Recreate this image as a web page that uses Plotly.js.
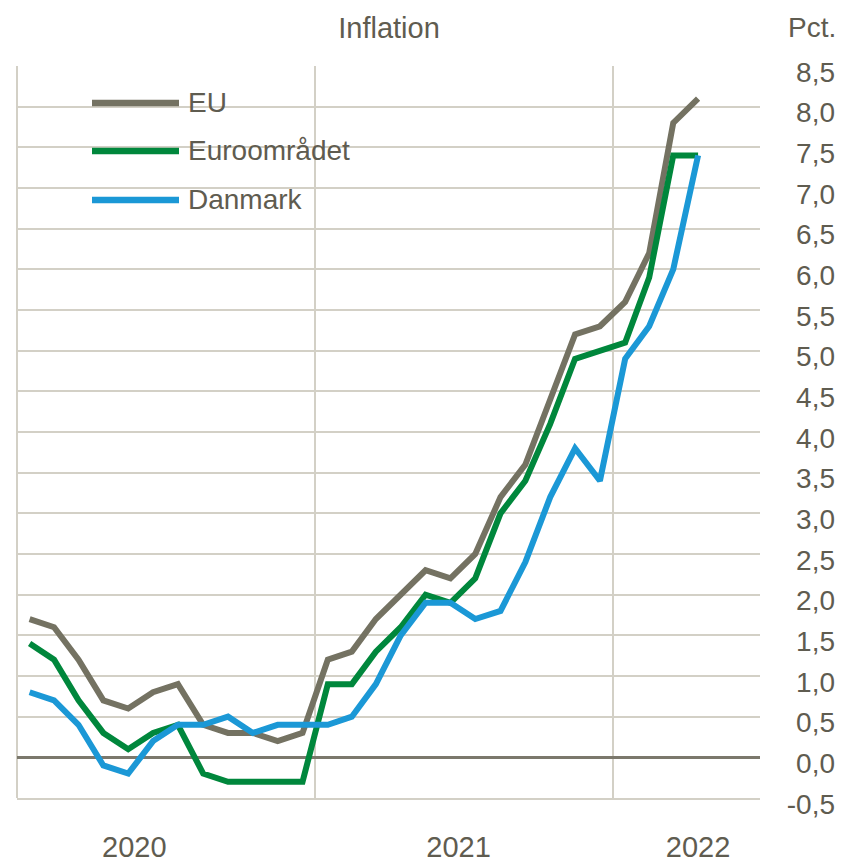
<!DOCTYPE html>
<html>
<head>
<meta charset="utf-8">
<script src="https://cdn.plot.ly/plotly-3.0.1.min.js"></script>
<style>html,body{margin:0;padding:0;background:#fff;}#chart{width:843px;height:862px;}</style>
</head>
<body>
<div id="chart"></div>
<script>
// ---- data ----
const months = [
  "2020-01","2020-02","2020-03","2020-04","2020-05","2020-06","2020-07","2020-08","2020-09","2020-10","2020-11","2020-12",
  "2021-01","2021-02","2021-03","2021-04","2021-05","2021-06","2021-07","2021-08","2021-09","2021-10","2021-11","2021-12",
  "2022-01","2022-02","2022-03","2022-04"
];
const eu = [1.7,1.6,1.2,0.7,0.6,0.8,0.9,0.4,0.3,0.3,0.2,0.3, 1.2,1.3,1.7,2.0,2.3,2.2,2.5,3.2,3.6,4.4,5.2,5.3, 5.6,6.2,7.8,8.1];
const euroarea = [1.4,1.2,0.7,0.3,0.1,0.3,0.4,-0.2,-0.3,-0.3,-0.3,-0.3, 0.9,0.9,1.3,1.6,2.0,1.9,2.2,3.0,3.4,4.1,4.9,5.0, 5.1,5.9,7.4,7.4];
const denmark = [0.8,0.7,0.4,-0.1,-0.2,0.2,0.4,0.4,0.5,0.3,0.4,0.4, 0.4,0.5,0.9,1.5,1.9,1.9,1.7,1.8,2.4,3.2,3.8,3.4, 4.9,5.3,6.0,7.4];
const seriesNames = ["EU","Euroområdet","Danmark"];
const yTickVals = [-0.5,0,0.5,1,1.5,2,2.5,3,3.5,4,4.5,5,5.5,6,6.5,7,7.5,8,8.5];
const yTickText = ["-0,5","0,0","0,5","1,0","1,5","2,0","2,5","3,0","3,5","4,0","4,5","5,0","5,5","6,0","6,5","7,0","7,5","8,0","8,5"];
const yearLabels = ["2020","2021","2022"];
const yearLabelPos = ["2020-05-24","2021-06-26","2022-04-16"];
const titleText = "Inflation";
const unitText = "Pct.";

// ---- style ----
const colors = ["#747262","#00873c","#1b98d6"];
const textColor = "#5f5c50";
const gridColor = "#d3d0c6";
const font = "'Liberation Sans', Arial, sans-serif";
const W = 843, H = 862, ml = 17, mr = 8, mt = 66, mb = 64;
const pw = W - ml - mr, ph = H - mt - mb;
const px2x = p => (p - ml) / pw;
const px2y = p => (H - mb - p) / ph;

const series = [eu, euroarea, denmark];
const traces = series.map((s, i) => ({
  type: "scatter", mode: "lines", name: seriesNames[i],
  x: months, y: s, xperiod: "M1", xperiodalignment: "middle",
  line: {color: colors[i], width: 6}, hoverinfo: "skip"
}));

const legendY = [103, 151, 200];
const shapes = [
  {type: "line", xref: "paper", yref: "paper", x0: 0, x1: 0, y0: 0, y1: 1, line: {color: gridColor, width: 2}, layer: "below"}
];
const annotations = [];
seriesNames.forEach((n, i) => {
  shapes.push({type: "line", xref: "paper", yref: "paper", x0: px2x(92), x1: px2x(179), y0: px2y(legendY[i]), y1: px2y(legendY[i]), line: {color: colors[i], width: 6.5}});
  annotations.push({xref: "paper", yref: "paper", x: px2x(186), y: px2y(legendY[i] - 1), xanchor: "left", yanchor: "middle", text: n, showarrow: false, font: {family: font, size: 28, color: textColor}});
});
annotations.push({xref: "paper", yref: "paper", x: px2x(838), y: px2y(27), xanchor: "right", yanchor: "middle", text: unitText, showarrow: false, font: {family: font, size: 28, color: textColor}});

const layout = {
  width: W, height: H,
  margin: {l: ml, r: mr, t: mt, b: mb, pad: 0},
  paper_bgcolor: "#fff", plot_bgcolor: "#fff",
  showlegend: false,
  separators: ",.",
  font: {family: font, size: 28, color: textColor},
  title: {text: titleText, x: px2x(389), xref: "paper", xanchor: "center", y: 1 - 28 / H, yref: "container", yanchor: "middle", font: {family: font, size: 29, color: textColor}},
  xaxis: {
    type: "date", domain: [0, (760 - ml) / pw], range: ["2020-01-01", "2022-07-01"],
    tickmode: "array", tickvals: yearLabelPos, ticktext: yearLabels, ticks: "",
    showgrid: false, showline: true, linecolor: gridColor, linewidth: 2,
    tickfont: {family: font, size: 29, color: textColor}, ticklabelstandoff: 22,
    minor: {tick0: "2020-01-01", dtick: "M12", showgrid: true, gridcolor: gridColor, gridwidth: 2, ticks: ""},
    zeroline: false, fixedrange: true
  },
  yaxis: {
    range: [-0.5, 8.5], side: "left", anchor: "free", position: 1,
    tickmode: "array", tickvals: yTickVals, ticktext: yTickText, ticks: "",
    showgrid: true, gridcolor: gridColor, gridwidth: 2,
    zeroline: true, zerolinecolor: "#7b786c", zerolinewidth: 2.5,
    showline: false, tickfont: {family: font, size: 28, color: textColor},
    ticklabelshift: 6, fixedrange: true
  },
  shapes: shapes,
  annotations: annotations
};

Plotly.newPlot("chart", traces, layout, {displayModeBar: false, staticPlot: true});
</script>
</body>
</html>
